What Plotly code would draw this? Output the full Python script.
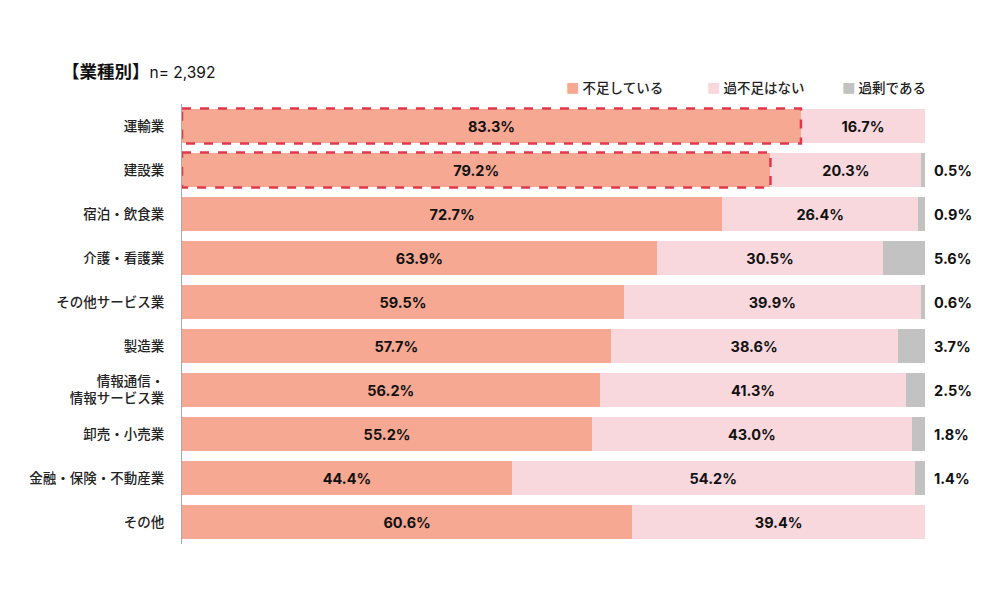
import plotly.graph_objects as go

categories = ["運輸業", "建設業", "宿泊・飲食業", "介護・看護業", "その他サービス業", "製造業",
              "情報通信・<br>情報サービス業", "卸売・小売業", "金融・保険・不動産業", "その他"]
shortage = [83.3, 79.2, 72.7, 63.9, 59.5, 57.7, 56.2, 55.2, 44.4, 60.6]
adequate = [16.7, 20.3, 26.4, 30.5, 39.9, 38.6, 41.3, 43.0, 54.2, 39.4]
surplus = [0.0, 0.5, 0.9, 5.6, 0.6, 3.7, 2.5, 1.8, 1.4, 0.0]
series_names = ["不足している", "過不足はない", "過剰である"]
colors = ["#F6A892", "#F8D8DC", "#C2C2C2"]
highlight = [0, 1]

FONT = "Inter, Noto Sans CJK JP, sans-serif"
idx = list(range(len(categories)))

fig = go.Figure()
for name, vals, col, show_text in zip(series_names, [shortage, adequate, surplus], colors, [True, True, False]):
    fig.add_trace(go.Bar(
        y=idx, x=vals, orientation="h", name=name,
        marker=dict(color=col, line=dict(width=0)),
        text=[f"{v:.1f}%" for v in vals] if show_text else None,
        textposition="inside" if show_text else "none",
        insidetextanchor="middle",
        textfont=dict(family=FONT, size=14.5, color="#111111", weight="bold"),
        width=0.77, showlegend=False, hoverinfo="skip",
    ))

# surplus values shown outside the bar end
for i, v in enumerate(surplus):
    if v > 0:
        fig.add_annotation(x=100, y=i, xref="x", yref="y", text=f"<b>{v:.1f}%</b>",
                           showarrow=False, xanchor="left", xshift=7,
                           font=dict(family=FONT, size=14.5, color="#111111"))

# dashed highlight boxes
for i in highlight:
    fig.add_shape(type="rect", xref="x", yref="y", x0=0, x1=shortage[i], y0=i - 0.4, y1=i + 0.4,
                  line=dict(color="#E0394B", width=2.5, dash="dash"), fillcolor="rgba(0,0,0,0)")

# legend
leg_x = [0.514, 0.704, 0.885]
for name, col, lx in zip(series_names, colors, leg_x):
    fig.add_annotation(x=lx, y=1.039, xref="paper", yref="paper", xanchor="left", yanchor="middle",
                       text=f"<span style='color:{col}'>■</span> {name}", showarrow=False,
                       font=dict(family="Noto Sans CJK JP", size=13.5, color="#222222", weight=500))

fig.update_layout(
    width=992, height=592,
    barmode="stack", bargap=0.23,
    margin=dict(l=174, r=75, t=96, b=56),
    paper_bgcolor="white", plot_bgcolor="white",
    title=dict(text="<b>【業種別】</b><span style='font-size:15.5px'>n= 2,392</span>",
               x=54 / 992, xref="container", xanchor="left", y=1 - 64 / 592, yref="container", yanchor="middle",
               font=dict(family=FONT, size=17.5, color="#111111")),
    xaxis=dict(range=[0, 100], visible=False, fixedrange=True),
    yaxis=dict(tickmode="array", tickvals=idx, ticktext=categories,
               autorange=False, range=[9.5, -0.5], showgrid=False, zeroline=False,
               showline=True, linecolor="#AAAAAA", linewidth=1,
               ticks="", ticklabelstandoff=14,
               tickfont=dict(family="Noto Sans CJK JP", size=13.5, color="#222222", weight=500)),
)

fig.write_html("out.html")
